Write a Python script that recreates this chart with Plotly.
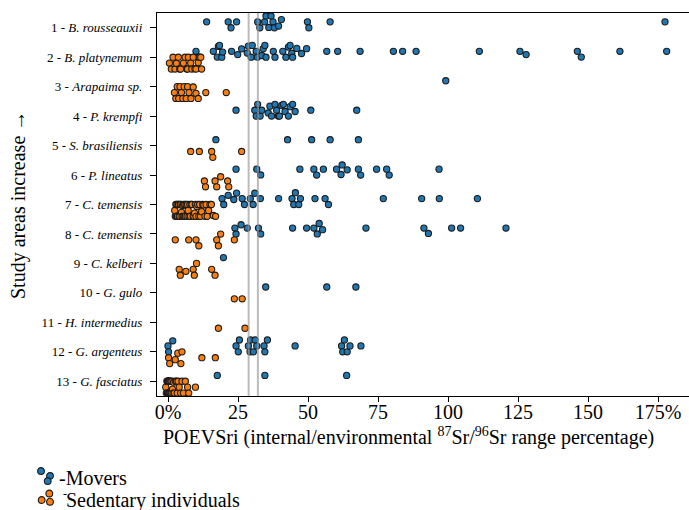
import numpy as np
import plotly.graph_objects as go

# ---------------- data ----------------
labels = ["1 - <i>B. rousseauxii</i>", "2 - <i>B. platynemum</i>", "3 - <i>Arapaima sp.</i>",
          "4 - <i>P. krempfi</i>", "5 - <i>S. brasiliensis</i>", "6 - <i>P. lineatus</i>",
          "7 - <i>C. temensis</i>", "8 - <i>C. temensis</i>", "9 - <i>C. kelberi</i>",
          "10 - <i>G. gulo</i>", "11 - <i>H. intermedius</i>", "12 - <i>G. argenteus</i>",
          "13 - <i>G. fasciatus</i>"]

mov_01 = [13.8, 21.5, 22.5, 24.5, 32.0, 32.8, 34.5, 35.0, 36.0, 36.8, 37.5, 38.0, 39.5, 40.5, 49.8, 50.3, 57.9, 177.5]
sed_01 = []
mov_02 = [10.0, 10.8, 16.2, 17.6, 18.0, 18.4, 19.2, 19.5, 22.7, 24.9, 26.3, 28.3, 28.7, 29.7, 30.1, 31.5, 31.9,
          33.5, 34.0, 34.6, 35.0, 37.6, 38.2, 41.0, 42.1, 43.0, 43.6, 44.2, 44.5, 46.0, 47.7, 49.5, 56.7, 60.6,
          68.6, 80.5, 83.8, 88.6, 111.2, 125.7, 127.9, 146.2, 147.6, 161.4, 178.1]
sed_02 = [0.5, 1.2, 1.8, 2.5, 3.0, 3.7, 4.2, 4.5, 5.5, 6.1, 6.7, 7.0, 7.3, 8.1, 8.5, 9.0, 9.6, 10.0, 10.8, 11.2, 11.7, 12.0]
mov_03 = [99.2]
sed_03 = [2.3, 2.8, 3.3, 3.8, 4.3, 4.8, 5.3, 5.8, 6.5, 7.0, 7.5, 8.2, 9.0, 10.0, 10.8, 13.5, 20.8]
mov_04 = [24.3, 31.0, 31.5, 32.0, 32.9, 33.5, 35.8, 36.4, 37.0, 38.2, 38.8, 39.4, 39.8, 40.6, 41.2, 41.8,
          43.0, 43.6, 44.5, 45.4, 51.0, 67.4]
sed_04 = []
mov_05 = [17.1, 42.7, 51.3, 57.9, 68.0]
sed_05 = [8.1, 11.2, 15.6, 16.0, 26.3]
mov_06 = [24.3, 31.7, 33.1, 47.1, 52.1, 53.1, 55.5, 60.2, 61.8, 62.2, 64.0, 68.0, 68.8, 74.5, 78.1, 79.0, 96.8]
sed_06 = [13.0, 13.4, 16.8, 17.4, 18.8, 21.3, 21.7]
mov_07 = [19.3, 19.9, 21.5, 23.5, 24.5, 26.5, 27.3, 29.4, 30.4, 31.0, 33.0, 39.5, 44.3, 44.9, 45.5, 46.7,
          47.3, 52.5, 56.1, 57.3, 76.9, 90.6, 96.9, 110.5]
sed_07 = [2.4, 2.6, 2.8, 3.0, 3.2, 3.4, 3.6, 3.8, 4.0, 4.2, 4.4, 4.6, 4.8, 5.0, 5.2, 5.4, 5.6, 5.8, 6.0,
          6.2, 6.5, 6.8, 7.0, 7.2, 7.5, 7.8, 8.0, 8.3, 8.6, 9.0, 9.2, 9.5, 9.8, 10.0, 10.3, 10.6, 11.0,
          11.3, 11.6, 12.0, 12.4, 12.8, 13.2, 13.6, 14.0, 14.5, 15.0, 15.5, 16.2, 17.0]
mov_08 = [23.9, 24.3, 26.1, 28.3, 32.3, 33.1, 44.5, 49.5, 52.1, 53.3, 54.0, 55.2, 70.7, 91.4, 93.0, 101.3, 104.5, 120.7]
sed_08 = [2.6, 7.4, 10.0, 11.0, 17.4, 18.0, 18.8, 23.7]
mov_09 = [19.8]
sed_09 = [4.0, 4.4, 6.4, 9.0, 9.4, 10.2, 15.6, 16.8]
mov_10 = [34.9, 56.7, 67.1]
sed_10 = [23.7, 26.5]
mov_11 = []
sed_11 = [18.0, 27.5]
mov_12 = [0.0, 0.2, 1.7, 24.3, 25.1, 25.5, 28.7, 29.3, 29.5, 30.5, 31.1, 31.7, 34.3, 34.6, 35.5, 45.4,
          62.0, 62.4, 63.0, 64.0, 65.0, 68.9]
sed_12 = [0.2, 0.6, 2.6, 3.5, 4.6, 5.0, 12.1, 16.9]
mov_13 = [17.6, 34.6, 63.8]
sed_13 = [-0.8, -0.6, -0.4, -0.2, 0.0, 0.0, 0.0, 0.0, 0.1, 0.2, 0.3, 0.4, 0.5, 0.6, 0.8, 1.0, 1.2, 1.4,
          1.6, 1.8, 2.0, 2.3, 2.6, 3.0, 3.3, 3.6, 4.0, 4.5, 5.0, 5.5, 6.2, 7.0, 7.4, 9.8]

movers = [mov_01, mov_02, mov_03, mov_04, mov_05, mov_06, mov_07, mov_08, mov_09, mov_10, mov_11, mov_12, mov_13]
sedentary = [sed_01, sed_02, sed_03, sed_04, sed_05, sed_06, sed_07, sed_08, sed_09, sed_10, sed_11, sed_12, sed_13]

ref_lines = [28.8, 32.1]
xtick_vals = [0, 25, 50, 75, 100, 125, 150, 175]
xtick_text = ["0%", "25", "50", "75", "100", "125", "150", "175%"]

# ---------------- layout geometry ----------------
W, H = 689, 510
ML, MR, MT, MB = 157, 0, 13, 114
X_RANGE = [-3.93, 186.07]
Y_RANGE = [13.5, 0.5]
PW, PH = W - ML - MR, H - MT - MB
SX = PW / (X_RANGE[1] - X_RANGE[0])
SY = PH / (Y_RANGE[0] - Y_RANGE[1])
D = 7.0          # collision diameter in px
HALF = 0.2       # half width of each dodged swarm (category units)
DODGE = 0.2
BLUE, ORANGE, EDGE = "#1f77b4", "#ff7f0e", "#1c1c1c"
FONT = "Liberation Serif"


def swarm_offsets(values):
    v = np.asarray(values, float)
    if len(v) == 0:
        return v
    order = np.argsort(v, kind="stable")
    px = v * SX
    pxs, pys = [], []
    off = np.zeros(len(v))
    for i in order:
        x = px[i]
        nx, ny = np.array(pxs), np.array(pys)
        if len(nx):
            m = np.abs(nx - x) < D
            nx, ny = nx[m], ny[m]
        cands = [0.0]
        for a, b in zip(nx, ny):
            dy = np.sqrt(max(D * D - (a - x) ** 2, 0.0))
            cands += [b + dy, b - dy]
        cands = sorted(cands, key=abs)
        y = cands[0]
        for c in cands:
            if len(nx) == 0 or np.all((nx - x) ** 2 + (ny - c) ** 2 >= D * D - 1e-6):
                y = c
                break
        pxs.append(x)
        pys.append(y)
        off[i] = y
    lim = HALF * SY
    off = np.clip(off, -lim, lim)
    return off / SY


fig = go.Figure()


def add_group(groups, sign, color, name):
    xs, ys = [], []
    for k, vals in enumerate(groups):
        offs = swarm_offsets(vals)
        for val, o in zip(vals, offs):
            xs.append(val)
            ys.append(k + 1 + sign * DODGE + o)
    fig.add_trace(go.Scatter(x=xs, y=ys, mode="markers", name=name, showlegend=False,
                             marker=dict(size=6.2, color=color, line=dict(color=EDGE, width=1.1)),
                             cliponaxis=False))


add_group(movers, -1, BLUE, "Movers")
add_group(sedentary, +1, ORANGE, "Sedentary individuals")

shapes = []
for xv in ref_lines:
    shapes.append(dict(type="line", xref="x", yref="paper", x0=xv, x1=xv, y0=0, y1=1,
                       line=dict(color="rgba(150,150,150,0.65)", width=2), layer="above"))


def px2paper(px, py):
    return (px - ML) / PW, (H - MB - py) / PH


def circ(cx, cy, color, r=3.4):
    x0, y0 = px2paper(cx - r, cy + r)
    x1, y1 = px2paper(cx + r, cy - r)
    return dict(type="circle", xref="paper", yref="paper", x0=x0, y0=y0, x1=x1, y1=y1,
                fillcolor=color, line=dict(color=EDGE, width=1.1), layer="above")


for (cx, cy) in [(41, 471), (50, 476), (47.7, 481)]:
    shapes.append(circ(cx, cy, BLUE))
for (cx, cy) in [(49.3, 493.5), (41.7, 500), (50, 501.7)]:
    shapes.append(circ(cx, cy, ORANGE))


def note(px, py, text, size=20, xanchor="left", angle=0):
    ax, ay = px2paper(px, py)
    return dict(xref="paper", yref="paper", x=ax, y=ay, xanchor=xanchor, yanchor="middle",
                showarrow=False, textangle=angle, text=text,
                font=dict(family=FONT, size=size, color="black"))


annotations = [
    note(408, 436, "POEVSri (internal/environmental <sup>87</sup>Sr/<sup>96</sup>Sr range percentage)",
         xanchor="center"),
    note(18, 205, "Study areas increase →", xanchor="center", angle=-90),
    note(57, 478, "-Movers"),
    note(60.5, 494, "-", size=12),
    note(64, 500, "Sedentary individuals"),
]

fig.update_layout(
    width=W, height=H, margin=dict(l=ML, r=MR, t=MT, b=MB, pad=0),
    paper_bgcolor="white", plot_bgcolor="white",
    font=dict(family=FONT, color="black"),
    shapes=shapes, annotations=annotations,
    xaxis=dict(range=X_RANGE, tickvals=xtick_vals, ticktext=xtick_text, showgrid=False, zeroline=False,
               showline=True, linecolor="black", linewidth=1.3, mirror=True, ticks="outside", ticklen=5,
               tickcolor="black", ticklabelstandoff=-7,
               tickfont=dict(family=FONT, size=20, color="black")),
    yaxis=dict(range=Y_RANGE, tickvals=list(range(1, 14)), ticktext=labels, showgrid=False, zeroline=False,
               showline=True, linecolor="black", linewidth=1.3, ticks="outside", ticklen=6,
               tickcolor="black", ticklabelstandoff=5,
               tickfont=dict(family=FONT, size=13, color="black")),
)

fig.write_html("out.html", config={"displayModeBar": False},
               post_script="document.body.style.margin='0';document.body.style.padding='0';")
